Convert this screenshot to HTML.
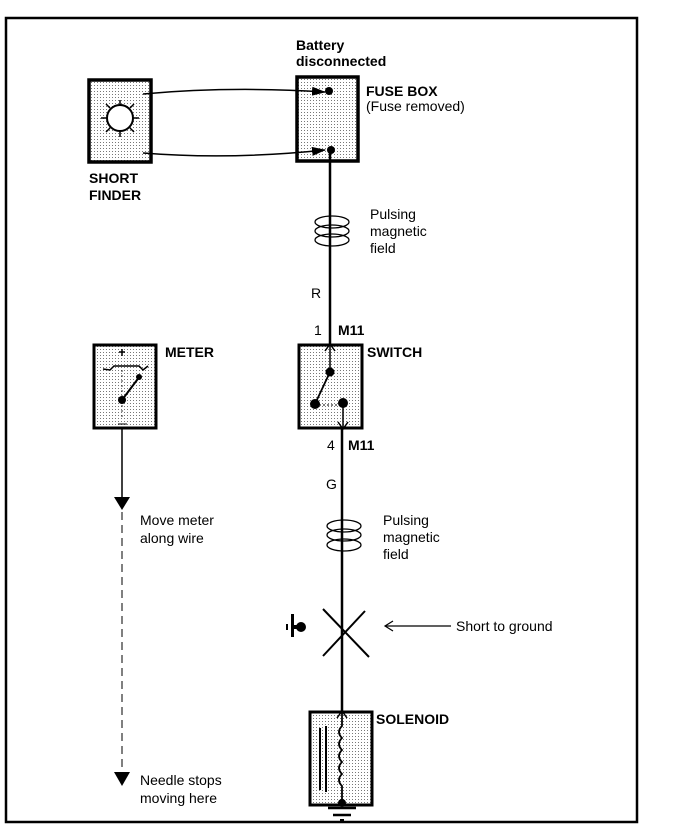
<!DOCTYPE html>
<html><head><meta charset="utf-8"><style>
body{margin:0;background:#fff}
svg{display:block}
text{font-family:"Liberation Sans",Arial,sans-serif;font-size:14px;fill:#000}
.b{font-weight:bold}
</style></head><body>
<svg width="688" height="840" viewBox="0 0 688 840" xmlns="http://www.w3.org/2000/svg">
<defs>
<pattern id="dots" width="3" height="3" patternUnits="userSpaceOnUse"><rect width="3" height="3" fill="#fff"/><rect x="1" y="1" width="1" height="1" fill="#777"/></pattern>
<marker id="ah" markerWidth="14" markerHeight="9" refX="13" refY="4.5" orient="auto" markerUnits="userSpaceOnUse"><path d="M0,0 L14,4.5 L0,9z" fill="#000"/></marker>
</defs>
<rect x="6" y="18" width="631" height="804" fill="none" stroke="#000" stroke-width="2.5"/>

<!-- short finder -->
<rect x="89" y="80" width="62" height="82" fill="url(#dots)" stroke="#000" stroke-width="3.5"/>
<circle cx="120" cy="118" r="13" fill="#fff" stroke="#000" stroke-width="2"/>
<g stroke="#000" stroke-width="1.5">
<line x1="120" y1="100" x2="120" y2="105"/><line x1="120" y1="131" x2="120" y2="137"/>
<line x1="101" y1="118" x2="107" y2="118"/><line x1="133" y1="118" x2="139" y2="118"/>
<line x1="106" y1="104" x2="110" y2="108"/><line x1="134" y1="104" x2="130" y2="108"/>
<line x1="106" y1="132" x2="110" y2="128"/><line x1="134" y1="132" x2="130" y2="128"/>
</g>
<text class="b" x="89" y="183">SHORT</text>
<text class="b" x="89" y="200">FINDER</text>

<!-- fuse box -->
<rect x="297" y="77" width="61" height="84" fill="url(#dots)" stroke="#000" stroke-width="3.5"/>
<path d="M143,94 Q230,86 325,92" fill="none" stroke="#000" stroke-width="1.5" marker-end="url(#ah)"/>
<path d="M143,153 Q230,160 325,150" fill="none" stroke="#000" stroke-width="1.5" marker-end="url(#ah)"/>
<circle cx="329" cy="91" r="4"/><circle cx="331" cy="150" r="4"/>
<text class="b" x="296" y="50">Battery</text>
<text class="b" x="296" y="66">disconnected</text>
<text class="b" x="366" y="96">FUSE BOX</text>
<text x="366" y="111">(Fuse removed)</text>

<!-- wire 1 -->
<line x1="330" y1="150" x2="330" y2="348" stroke="#000" stroke-width="2.5"/>
<g fill="none" stroke="#000" stroke-width="1.3">
<ellipse cx="332" cy="222" rx="17" ry="6"/><ellipse cx="332" cy="231" rx="17" ry="6"/><ellipse cx="332" cy="240" rx="17" ry="6"/>
</g>
<text x="370" y="219">Pulsing</text><text x="370" y="236">magnetic</text><text x="370" y="253">field</text>
<text x="311" y="298">R</text>
<text x="314" y="335">1</text><text class="b" x="338" y="335">M11</text>

<!-- switch -->
<rect x="299" y="345" width="63" height="83" fill="url(#dots)" stroke="#000" stroke-width="3"/>
<line x1="330" y1="345" x2="330" y2="372" stroke="#000" stroke-width="1.5"/>
<path d="M325,351 L330,344 L335,351" fill="none" stroke="#000" stroke-width="1.5"/>
<circle cx="330" cy="372" r="4.5"/><circle cx="315" cy="404" r="5"/><circle cx="343" cy="403" r="5"/>
<line x1="330" y1="372" x2="315" y2="404" stroke="#000" stroke-width="1.8"/>
<line x1="319" y1="405" x2="339" y2="405" stroke="#000" stroke-width="1" stroke-dasharray="2,2"/>
<line x1="343" y1="403" x2="343" y2="428" stroke="#000" stroke-width="1.5"/>
<path d="M338,422 L343,429 L348,422" fill="none" stroke="#000" stroke-width="1.5"/>
<text class="b" x="367" y="357">SWITCH</text>
<text x="327" y="450">4</text><text class="b" x="348" y="450">M11</text>
<text x="326" y="489">G</text>

<!-- wire 2 -->
<line x1="342" y1="428" x2="342" y2="712" stroke="#000" stroke-width="2.5"/>
<g fill="none" stroke="#000" stroke-width="1.3">
<ellipse cx="344" cy="526" rx="17" ry="6"/><ellipse cx="344" cy="535" rx="17" ry="6"/><ellipse cx="344" cy="545" rx="17" ry="6"/>
</g>
<text x="383" y="525">Pulsing</text><text x="383" y="542">magnetic</text><text x="383" y="559">field</text>

<!-- short X -->
<line x1="323" y1="609" x2="369" y2="657" stroke="#000" stroke-width="2"/>
<line x1="365" y1="611" x2="323" y2="656" stroke="#000" stroke-width="2"/>
<rect x="286" y="624" width="2" height="6"/><rect x="291" y="614" width="3" height="23"/>
<circle cx="301" cy="627" r="5"/><rect x="294" y="625" width="6" height="4"/>
<line x1="451" y1="626" x2="386" y2="626" stroke="#000" stroke-width="1.2"/>
<path d="M393,621 L385,626 L393,631" fill="none" stroke="#000" stroke-width="1.2"/>
<text x="456" y="631">Short to ground</text>

<!-- solenoid -->
<rect x="310" y="712" width="62" height="93" fill="url(#dots)" stroke="#000" stroke-width="3"/>
<path d="M337,718 L342,711 L347,718" fill="none" stroke="#000" stroke-width="1.5"/>
<line x1="320" y1="728" x2="320" y2="790" stroke="#000" stroke-width="2"/>
<line x1="326" y1="726" x2="326" y2="792" stroke="#000" stroke-width="2"/>
<path d="M342,712 L342,726 q-6,6 0,12 q-6,6 0,12 q-6,6 0,12 q-6,6 0,12 q-6,6 0,12 L342,805" fill="none" stroke="#000" stroke-width="1.8"/>
<circle cx="342" cy="803" r="4"/>
<text class="b" x="376" y="724">SOLENOID</text>
<line x1="328" y1="808" x2="356" y2="808" stroke="#000" stroke-width="2.5"/>
<line x1="333" y1="815" x2="351" y2="815" stroke="#000" stroke-width="2.5"/>
<rect x="340" y="819" width="4" height="3"/>

<!-- meter -->
<rect x="94" y="345" width="62" height="83" fill="url(#dots)" stroke="#000" stroke-width="3"/>
<line x1="122" y1="349" x2="122" y2="356" stroke="#000" stroke-width="1.5"/>
<line x1="119" y1="352" x2="125" y2="352" stroke="#000" stroke-width="1.5"/>
<path d="M103,369 L110,370 L114,366 L139,366 L143,370 L148,366" fill="none" stroke="#000" stroke-width="1.5"/>
<line x1="122" y1="400" x2="140" y2="376" stroke="#000" stroke-width="2"/>
<circle cx="139" cy="377" r="3"/><circle cx="122" cy="400" r="4"/>
<line x1="122" y1="370" x2="122" y2="420" stroke="#000" stroke-width="0.8" stroke-dasharray="2,3"/>
<line x1="118" y1="424" x2="127" y2="424" stroke="#000" stroke-width="1"/>
<text class="b" x="165" y="357">METER</text>
<line x1="122" y1="428" x2="122" y2="500" stroke="#000" stroke-width="1.5"/>
<path d="M114,497 L130,497 L122,510z"/>
<line x1="122" y1="512" x2="122" y2="770" stroke="#000" stroke-width="1" stroke-dasharray="8,5"/>
<path d="M114,772 L130,772 L122,786z"/>
<text x="140" y="525">Move meter</text><text x="140" y="543">along wire</text>
<text x="140" y="785">Needle stops</text><text x="140" y="803">moving here</text>
</svg>
</body></html>
